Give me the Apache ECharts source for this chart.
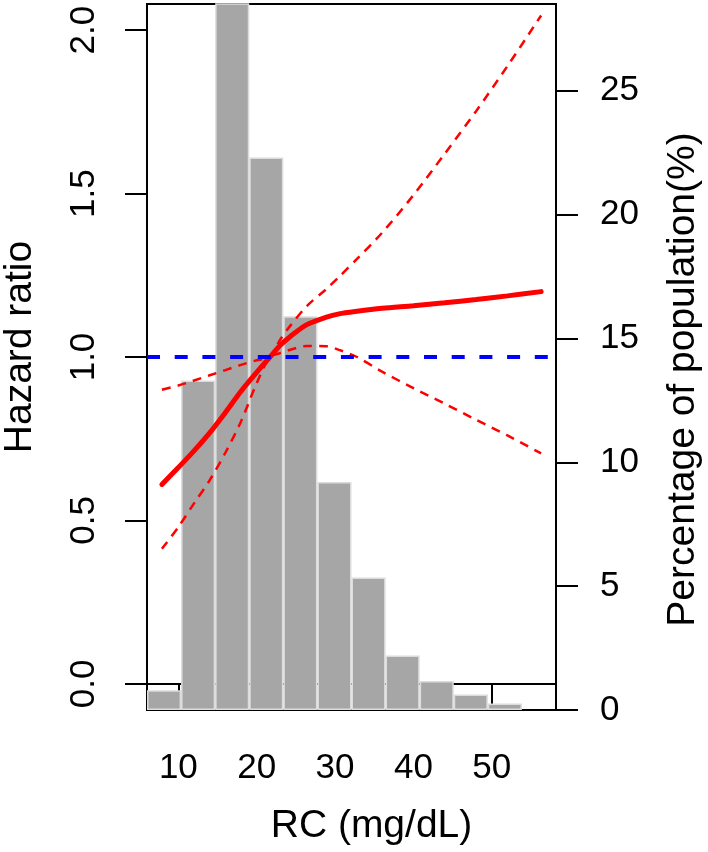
<!DOCTYPE html>
<html>
<head>
<meta charset="utf-8">
<title>RC and hazard ratio</title>
<script src="https://cdn.jsdelivr.net/npm/echarts@6/dist/echarts.min.js"></script>
<style>
  html, body { margin: 0; padding: 0; background: #fff; }
  #chart { width: 708px; height: 852px; }
</style>
</head>
<body>
<div id="chart"></div>
<script>
// RC (mg/dL) where the spline was read
var rcValues = [7.9, 10, 12, 14, 16, 18, 20, 21.7, 23, 24.3, 26.4, 28.9, 30.5, 32.8, 36, 40, 44, 48, 52, 56.3];
// hazard ratio and its 95% CI
var hazardRatio = [0.61, 0.662, 0.713, 0.768, 0.83, 0.895, 0.953, 1.0, 1.036, 1.063, 1.099, 1.122, 1.132, 1.14, 1.149, 1.157, 1.166, 1.176, 1.187, 1.2];
var hrLower = [0.413, 0.48, 0.552, 0.623, 0.707, 0.803, 0.92, 1.0, 1.012, 1.022, 1.034, 1.033, 1.022, 1.0, 0.955, 0.905, 0.857, 0.808, 0.76, 0.705];
var hrUpper = [0.90, 0.913, 0.928, 0.944, 0.96, 0.976, 0.99, 1.0, 1.053, 1.096, 1.156, 1.208, 1.245, 1.30, 1.38, 1.495, 1.622, 1.752, 1.89, 2.045];

// histogram: share of population per RC bin (bin mid points), last band empty
var binMids = ['8.2', '12.5', '16.9', '21.2', '25.6', '29.9', '34.3', '38.6', '43.0', '47.3', '51.6', '56.0'];
var binPercent = [0.8, 13.3, 30, 22.3, 15.9, 9.2, 5.35, 2.2, 1.17, 0.63, 0.26, null];

var hrTicks = [0, 0.5, 1, 1.5, 2];
var rcTicks = [10, 20, 30, 40, 50];
var pctTicks = [0, 5, 10, 15, 20, 25];

function pairs(ys) {
  return rcValues.map(function (x, i) { return [x, ys[i]]; });
}

var font = 'Liberation Sans, Arial, sans-serif';
var axisLine = { show: true, lineStyle: { color: '#000', width: 2 } };
var tickStyle = { color: '#000', width: 2 };

var chart = echarts.init(document.getElementById('chart'));
var option = {
  animation: false,
  backgroundColor: '#fff',
  grid: {
    left: 147, right: 152, top: 4, bottom: 142,
    show: true, borderColor: '#000', borderWidth: 2,
    containLabel: false, outerBoundsMode: 'none'
  },
  xAxis: [
    {
      type: 'value',
      min: 6.0, max: 58.2,
      name: 'RC (mg/dL)',
      nameLocation: 'middle',
      nameGap: 97,
      nameTextStyle: { fontSize: 39, fontFamily: font, color: '#000', padding: [0, 0, 0, 40] },
      axisLine: axisLine,
      axisTick: { show: true, length: 23, customValues: rcTicks, lineStyle: tickStyle },
      axisLabel: { fontSize: 35, fontFamily: font, color: '#000', margin: 41, customValues: rcTicks },
      splitLine: { show: false }
    },
    {
      type: 'category',
      data: binMids,
      show: false,
      boundaryGap: true
    }
  ],
  yAxis: [
    {
      type: 'value',
      min: -0.08, max: 2.08,
      name: 'Hazard ratio',
      nameLocation: 'middle',
      nameRotate: 90,
      nameGap: 107,
      nameTextStyle: { fontSize: 39, fontFamily: font, color: '#000', padding: [0, 0, 0, 20] },
      axisLine: axisLine,
      axisTick: { show: true, length: 22, customValues: hrTicks, lineStyle: tickStyle },
      axisLabel: {
        fontSize: 35, fontFamily: font, color: '#000', margin: 45, rotate: 90,
        customValues: hrTicks,
        formatter: function (v) { return v.toFixed(1); }
      },
      splitLine: { show: false }
    },
    {
      type: 'value',
      position: 'right',
      min: 0, max: 28.5,
      name: 'Percentage of population(%)',
      nameLocation: 'middle',
      nameRotate: 90,
      nameGap: 108,
      nameTextStyle: { fontSize: 39, fontFamily: font, color: '#000', padding: [0, 45, 0, 0] },
      axisLine: axisLine,
      axisTick: { show: true, length: 22, customValues: pctTicks, lineStyle: tickStyle },
      axisLabel: { fontSize: 35, fontFamily: font, color: '#000', margin: 44, customValues: pctTicks },
      splitLine: { show: false }
    }
  ],
  series: [
    {
      name: 'Population',
      type: 'bar',
      xAxisIndex: 1,
      yAxisIndex: 1,
      data: binPercent,
      barCategoryGap: '0%',
      clip: true,
      z: 2,
      itemStyle: { color: '#a6a6a6', borderColor: '#dcdcdc', borderWidth: 1.5 }
    },
    {
      name: 'Lower CI',
      type: 'line',
      xAxisIndex: 0,
      yAxisIndex: 0,
      data: pairs(hrLower),
      smooth: 0.3,
      showSymbol: false,
      z: 3,
      lineStyle: { color: '#ff0000', width: 2.5, type: [9, 7] },
      markLine: {
        silent: true,
        symbol: ['none', 'none'],
        label: { show: false },
        lineStyle: { color: '#0000ff', width: 4, type: [13, 14.7] },
        data: [{ yAxis: 1 }]
      }
    },
    {
      name: 'Upper CI',
      type: 'line',
      xAxisIndex: 0,
      yAxisIndex: 0,
      data: pairs(hrUpper),
      smooth: 0.3,
      showSymbol: false,
      z: 3,
      lineStyle: { color: '#ff0000', width: 2.5, type: [9, 7] }
    },
    {
      name: 'Hazard ratio',
      type: 'line',
      xAxisIndex: 0,
      yAxisIndex: 0,
      data: pairs(hazardRatio),
      smooth: 0.3,
      showSymbol: false,
      z: 4,
      lineStyle: { color: '#ff0000', width: 5, cap: 'round' }
    }
  ]
};
chart.setOption(option);
</script>
</body>
</html>
